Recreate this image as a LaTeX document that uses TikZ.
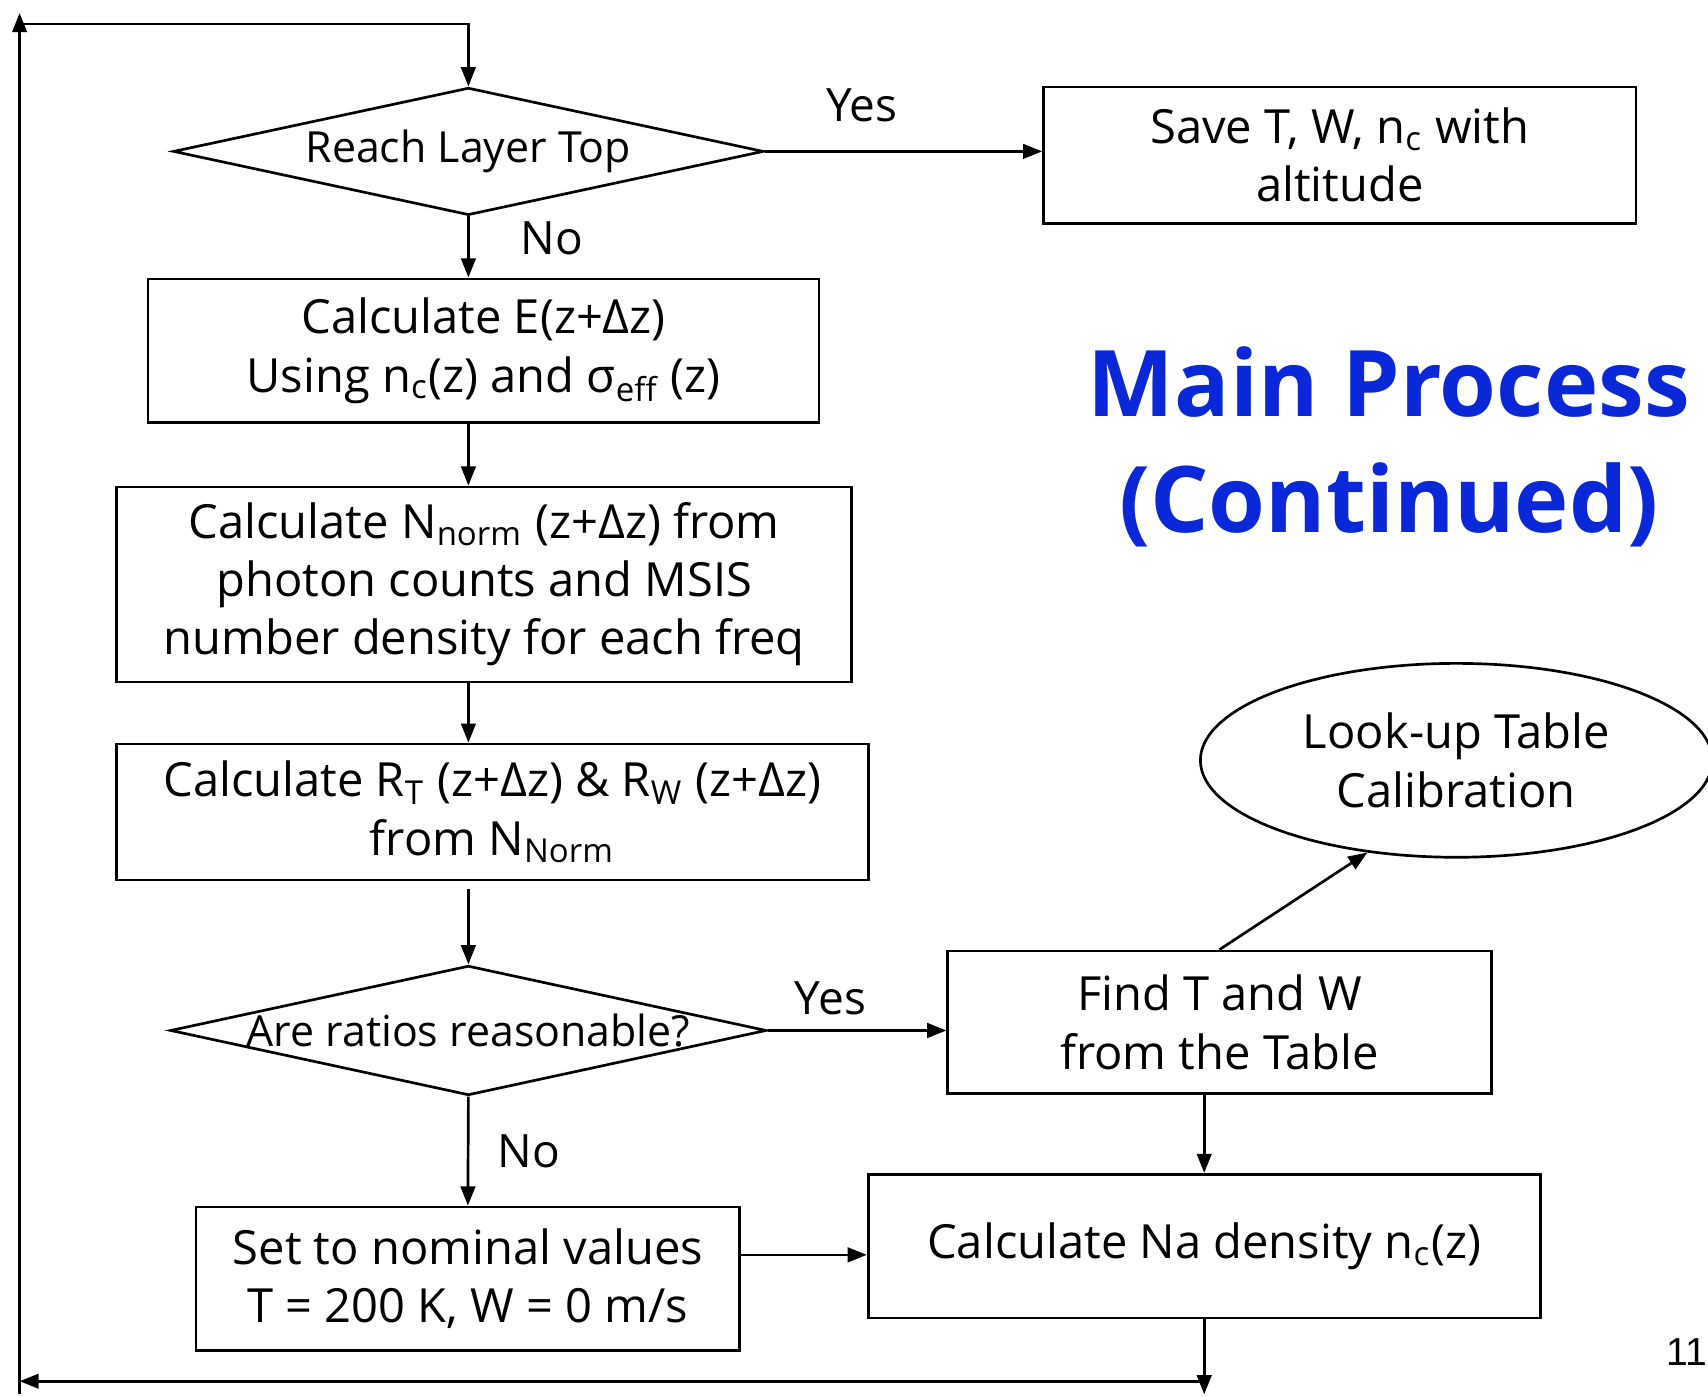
\documentclass[tikz,border=0pt]{standalone}
\usepackage{fontspec}
\setmainfont{Open Sans}
\newfontfamily\pagenumfont{Liberation Sans}
\usepackage{tikz}
\usetikzlibrary{arrows.meta,positioning,shapes.geometric,calc}
\definecolor{titleblue}{RGB}{10,40,215}
\tikzset{
  box/.style={draw,line width=0.7pt,align=center,font=\fontsize{12.3}{15.2}\selectfont,inner sep=2pt},
  dec/.style={draw,diamond,aspect=4.6,line width=0.7pt,inner sep=0pt,font=\fontsize{11.2}{13}\selectfont},
  arr/.style={-{Triangle[length=5pt,width=3.8pt]},line width=0.7pt},
  lbl/.style={font=\fontsize{12}{14}\selectfont,inner sep=0pt},
}
\begin{document}
\begin{tikzpicture}
\useasboundingbox (0,0) rectangle (15.68,-12.82);
% left column
\node[dec,minimum width=5.42cm,minimum height=1.17cm] (top) at (4.30,-1.39) {Reach Layer Top};
\node[box,minimum width=6.16cm,minimum height=1.32cm] (ext) at (4.44,-3.22) {Calculate E(z+Δz)\\Using n\textsubscript{c}(z) and σ\textsubscript{eff} (z)};
\node[box,minimum width=6.75cm,minimum height=1.79cm] (norm) at (4.445,-5.365) {Calculate N\textsubscript{norm} (z+Δz) from\\photon counts and MSIS\\number density for each freq};
\node[box,minimum width=6.90cm,minimum height=1.25cm] (ratio) at (4.52,-7.455) {Calculate R\textsubscript{T} (z+Δz) \& R\textsubscript{W} (z+Δz)\\from N\textsubscript{Norm}};
\node[dec,minimum width=5.44cm,minimum height=1.17cm] (check) at (4.30,-9.46) {Are ratios reasonable?};
\node[box,minimum width=4.99cm,minimum height=1.32cm] (nominal) at (4.295,-11.74) {Set to nominal values\\T = 200 K, W = 0 m/s};
% right column
\node[box,minimum width=5.44cm,minimum height=1.25cm] (save) at (12.30,-1.425) {Save T, W, n\textsubscript{c} with\\altitude};
\node[box,minimum width=4.99cm,minimum height=1.31cm] (find) at (11.195,-9.385) {Find T and W\\from the Table};
\node[draw,ellipse,line width=0.7pt,align=center,font=\fontsize{12.3}{15.2}\selectfont,minimum width=4.70cm,minimum height=1.78cm] (lut) at (13.37,-6.98) {Look-up Table\\Calibration};
\node[box,minimum width=6.17cm,minimum height=1.32cm] (dens) at (11.055,-11.44) {Calculate Na density n\textsubscript{c}(z)};
\node[font=\fontsize{24}{30.4}\selectfont\bfseries,text=titleblue,align=center] (title) at (12.75,-4.10) {Main Process\\(Continued)};
\node[font=\fontsize{10.2}{12}\selectfont\pagenumfont,anchor=east,inner sep=0pt] (pagenum) at (15.675,-12.41) {11};
% loop points
\coordinate (dn) at (11.055,-12.80);
\coordinate (br) at (11.055,-12.68);
\coordinate (bl) at (0.18,-12.68);
\coordinate (lb) at (0.18,-12.80);
\coordinate (lt) at (0.18,-0.12);
\coordinate (tl) at (0.18,-0.22);
% connectors
\draw[arr] (top.east) -- node[lbl,above=2.6mm,pos=0.35]{Yes} (top.east -| save.west);
\draw[arr] (top.south) -- node[lbl,right=4.7mm,pos=0.35]{No} (top.south |- ext.north);
\draw[arr] (top.south |- ext.south) -- (top.south |- norm.north);
\draw[arr] (top.south |- norm.south) -- (top.south |- ratio.north);
\draw[arr] ([yshift=-0.7mm]top.south |- ratio.south) -- (check.north);
\draw[arr] (check.east) -- node[lbl,above=1.3mm,pos=0.35]{Yes} (check.east -| find.west);
\draw[arr] (check.south) -- node[lbl,right=2.6mm]{No} (nominal.north);
\draw[arr] ([yshift=2.2mm]nominal.east) -- ([yshift=2.2mm]nominal.east -| dens.west);
\draw[arr] (find.south -| dens.north) -- (dens.north);
\draw[arr] (find.north) -- (lut.226);
\draw[arr] (dens.south) -- (dn);
\draw[arr] (br) -- (bl);
\draw[arr] (lb) -- (lt);
\draw[arr] (tl) -| (top.north);
\end{tikzpicture}
\end{document}
